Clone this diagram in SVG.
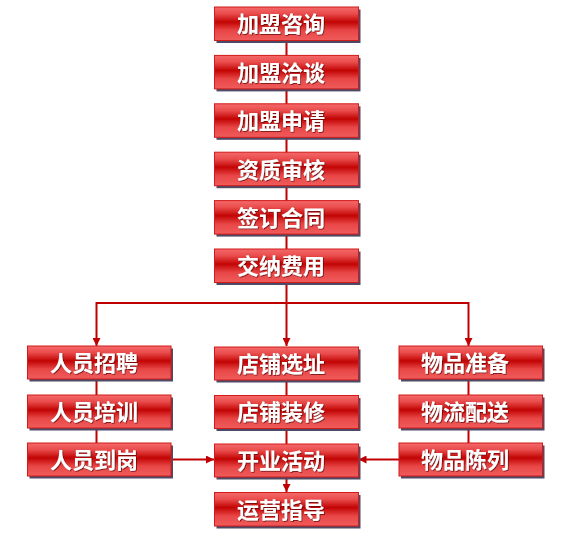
<svg xmlns="http://www.w3.org/2000/svg" width="576" height="538" viewBox="0 0 576 538">
<defs>
<linearGradient id="g" x1="0" y1="0" x2="0" y2="1">
<stop offset="0" stop-color="#f46a6a"/>
<stop offset="0.2" stop-color="#ea4c4c"/>
<stop offset="0.45" stop-color="#c20404"/>
<stop offset="0.7" stop-color="#e84646"/>
<stop offset="1" stop-color="#f05c5c"/>
</linearGradient>
<marker id="arr" viewBox="0 0 10 10" refX="10" refY="5" markerWidth="4.5" markerHeight="4" orient="auto" markerUnits="strokeWidth">
<path d="M0,0 L10,5 L0,10 Z" fill="#c00000"/>
</marker>
<filter id="ts" x="-10%" y="-10%" width="120%" height="130%">
<feDropShadow dx="0.8" dy="0.8" stdDeviation="0.4" flood-color="#500000" flood-opacity="0.8"/>
</filter>
</defs>
<style>
.sh{fill:#4d4a66;}
.bx{fill:url(#g);stroke:#d21a1a;stroke-width:1;}
.t{font-family:"Noto Sans CJK SC","Noto Sans CJK JP",sans-serif;font-weight:bold;font-size:22px;fill:#ffffff;text-anchor:middle;filter:url(#ts);}
.c{stroke:#c00000;stroke-width:2;fill:none;}
</style>
<rect width="576" height="538" fill="#ffffff"/>
<g id="connectors">
<line class="c" x1="286.5" y1="20" x2="286.5" y2="303"/>
<line class="c" x1="286.5" y1="303" x2="286.5" y2="346" marker-end="url(#arr)"/>
<polyline class="c" points="96.5,303 468.5,303"/>
<line class="c" x1="96.5" y1="302" x2="96.5" y2="346" marker-end="url(#arr)"/>
<line class="c" x1="468.5" y1="302" x2="468.5" y2="346" marker-end="url(#arr)"/>
<line class="c" x1="96.5" y1="379" x2="96.5" y2="444"/>
<line class="c" x1="468.5" y1="379" x2="468.5" y2="444"/>
<line class="c" x1="286.5" y1="379" x2="286.5" y2="444"/>
<line class="c" x1="286.5" y1="477" x2="286.5" y2="492" marker-end="url(#arr)"/>
<line class="c" x1="171" y1="459.5" x2="214" y2="459.5" marker-end="url(#arr)"/>
<line class="c" x1="399" y1="459.5" x2="358.5" y2="459.5" marker-end="url(#arr)"/>
</g>
<g id="n1"><rect class="sh" x="216.5" y="9.5" width="144" height="33.5"/><rect class="bx" x="214.5" y="7" width="144" height="33.5"/><text class="t" x="281" y="32.3">加盟咨询</text></g>
<g id="n2"><rect class="sh" x="216.5" y="57.9" width="144" height="33.5"/><rect class="bx" x="214.5" y="55.4" width="144" height="33.5"/><text class="t" x="281" y="80.7">加盟洽谈</text></g>
<g id="n3"><rect class="sh" x="216.5" y="106.3" width="144" height="33.5"/><rect class="bx" x="214.5" y="103.8" width="144" height="33.5"/><text class="t" x="281" y="129.1">加盟申请</text></g>
<g id="n4"><rect class="sh" x="216.5" y="154.7" width="144" height="33.5"/><rect class="bx" x="214.5" y="152.2" width="144" height="33.5"/><text class="t" x="281" y="177.5">资质审核</text></g>
<g id="n5"><rect class="sh" x="216.5" y="203.1" width="144" height="33.5"/><rect class="bx" x="214.5" y="200.6" width="144" height="33.5"/><text class="t" x="281" y="225.9">签订合同</text></g>
<g id="n6"><rect class="sh" x="216.5" y="251.5" width="144" height="33.5"/><rect class="bx" x="214.5" y="249" width="144" height="33.5"/><text class="t" x="281" y="274.3">交纳费用</text></g>
<g id="l1"><rect class="sh" x="29.5" y="348.5" width="143.5" height="33"/><rect class="bx" x="27.5" y="346" width="143.5" height="33"/><text class="t" x="94" y="370.8">人员招聘</text></g>
<g id="l2"><rect class="sh" x="29.5" y="397.5" width="143.5" height="33"/><rect class="bx" x="27.5" y="395" width="143.5" height="33"/><text class="t" x="94" y="419.8">人员培训</text></g>
<g id="l3"><rect class="sh" x="29.5" y="445.5" width="143.5" height="33"/><rect class="bx" x="27.5" y="443" width="143.5" height="33"/><text class="t" x="94" y="467.8">人员到岗</text></g>
<g id="c1"><rect class="sh" x="216.5" y="349.5" width="144" height="33"/><rect class="bx" x="214.5" y="347" width="144" height="33"/><text class="t" x="281" y="371.8">店铺选址</text></g>
<g id="c2"><rect class="sh" x="216.5" y="398" width="144" height="33"/><rect class="bx" x="214.5" y="395.5" width="144" height="33"/><text class="t" x="281" y="420.3">店铺装修</text></g>
<g id="c3"><rect class="sh" x="216.5" y="446.5" width="144" height="33"/><rect class="bx" x="214.5" y="444" width="144" height="33"/><text class="t" x="281" y="468.8">开业活动</text></g>
<g id="c4"><rect class="sh" x="216.5" y="495" width="144" height="33.5"/><rect class="bx" x="214.5" y="492.5" width="144" height="33.5"/><text class="t" x="281" y="517.8">运营指导</text></g>
<g id="r1"><rect class="sh" x="401" y="348.5" width="143.5" height="33"/><rect class="bx" x="399" y="346" width="143.5" height="33"/><text class="t" x="465" y="370.8">物品准备</text></g>
<g id="r2"><rect class="sh" x="401" y="397.5" width="143.5" height="33"/><rect class="bx" x="399" y="395" width="143.5" height="33"/><text class="t" x="465" y="419.8">物流配送</text></g>
<g id="r3"><rect class="sh" x="401" y="445.5" width="143.5" height="33"/><rect class="bx" x="399" y="443" width="143.5" height="33"/><text class="t" x="465" y="467.8">物品陈列</text></g>
</svg>
